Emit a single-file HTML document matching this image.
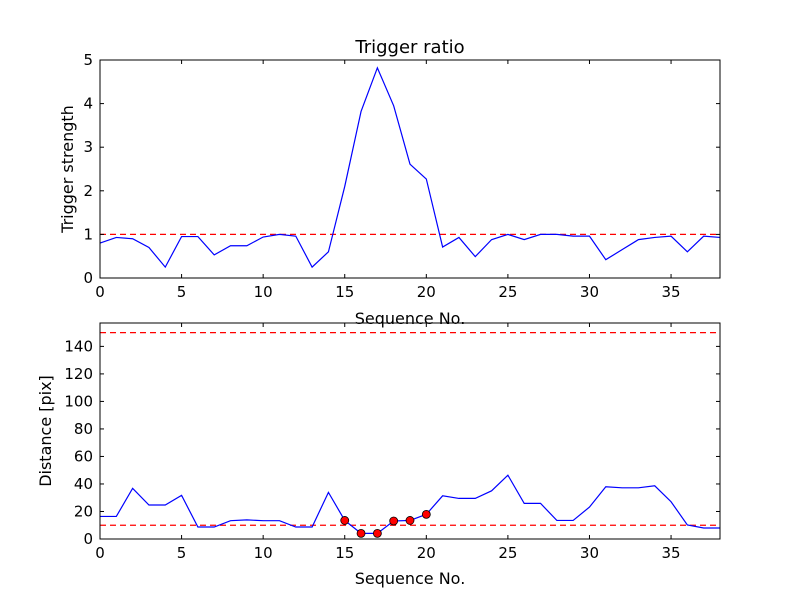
<!DOCTYPE html>
<html><head><meta charset="utf-8"><style>
body{margin:0;background:#fff;}
svg text{font-family:"DejaVu Sans","Liberation Sans",sans-serif;}
</style></head><body>
<svg id="c" width="800" height="600" xmlns="http://www.w3.org/2000/svg"></svg>
<script>
const seqIndex = [];
for (let i = 0; i <= 38; i++) seqIndex.push(i);
const triggerValues = [0.80,0.93,0.90,0.70,0.25,0.95,0.95,0.53,0.74,0.74,0.94,1.0,0.96,0.25,0.60,2.1,3.82,4.82,3.95,2.61,2.27,0.71,0.93,0.49,0.88,1.0,0.88,1.0,1.0,0.96,0.96,0.42,0.65,0.88,0.93,0.96,0.60,0.96,0.93];
const distanceValues = [16.4,16.4,36.8,24.7,24.7,31.7,8.7,8.7,13.3,13.9,13.3,13.3,8.7,8.7,33.9,13.5,4.1,4.1,13.1,13.5,17.9,31.4,29.5,29.5,35,46.4,25.9,25.9,13.5,13.5,23.2,38,37.2,37.2,38.7,27.1,10.2,8,8];
const markedIdx = [15,16,17,18,19,20];
const xTicks = [0,5,10,15,20,25,30,35];
const topYTicks = [0,1,2,3,4,5];
const botYTicks = [0,20,40,60,80,100,120,140];
const topThreshold = [1];
const botThresholds = [10,150];

const NS="http://www.w3.org/2000/svg";
const svg=document.getElementById('c');
function mk(tag,attrs,parent){const e=document.createElementNS(NS,tag);for(const k in attrs)e.setAttribute(k,attrs[k]);(parent||svg).appendChild(e);return e;}

function panel(cfg){
  const {L,R,T,B,ymin,ymax,ticks,vals,thr,name}=cfg;
  const xs=v=>L+(v-0)/(38-0)*(R-L);
  const ys=v=>B-(v-ymin)/(ymax-ymin)*(B-T);
  const g=mk('g',{});
  
  
  thr.forEach(t=>{
    const l=mk('line',{x1:L,x2:R,y1:ys(t),y2:ys(t),stroke:'#ff0000','stroke-width':1.2,'stroke-dasharray':'6,4'},g);
    
    
  });
  const pts=vals.map((v,i)=>xs(seqIndex[i]).toFixed(2)+','+ys(v).toFixed(2)).join(' ');
  const pl=mk('polyline',{points:pts,fill:'none',stroke:'#0000ff','stroke-width':1.2},g);
  
  
  const fr=mk('rect',{x:L,y:T,width:R-L,height:B-T,fill:'none',stroke:'#000','stroke-width':1},g);
  
  
  xTicks.forEach(t=>{
    const x=xs(t);
    mk('line',{x1:x,x2:x,y1:B,y2:B-4,stroke:'#000'},g);
    mk('line',{x1:x,x2:x,y1:T,y2:T+4,stroke:'#000'},g);
    const tx=mk('text',{x:x,y:B+19,'text-anchor':'middle','font-size':15},g);
    tx.textContent=t;
    
    
  });
  ticks.forEach(t=>{
    const y=ys(t);
    mk('line',{x1:L,x2:L+4,y1:y,y2:y,stroke:'#000'},g);
    mk('line',{x1:R,x2:R-4,y1:y,y2:y,stroke:'#000'},g);
    const tx=mk('text',{x:L-7,y:y+5,'text-anchor':'end','font-size':15},g);
    tx.textContent=t;
    
    
  });
  return {xs,ys,g};
}

const topPanel=panel({L:100,R:720,T:60,B:278,ymin:0,ymax:5,ticks:topYTicks,vals:triggerValues,thr:topThreshold,name:'trigger'});
const botPanel=panel({L:100,R:720,T:323,B:539,ymin:0,ymax:157,ticks:botYTicks,vals:distanceValues,thr:botThresholds,name:'distance'});
markedIdx.forEach(i=>{
  const c=mk('circle',{cx:botPanel.xs(seqIndex[i]),cy:botPanel.ys(distanceValues[i]),r:4,fill:'#ff0000',stroke:'#000','stroke-width':0.8},botPanel.g);
  
  
});
function label(txt,attrs,name){const t=mk('text',attrs);t.textContent=txt;}
label('Trigger ratio',{x:410,y:53,'text-anchor':'middle','font-size':18},'top-title');
label('Sequence No.',{x:410,y:324,'text-anchor':'middle','font-size':16},'top-x-axis-title');
label('Trigger strength',{x:73,y:169,'text-anchor':'middle','font-size':16,transform:'rotate(-90 73 169)'},'top-y-axis-title');
label('Sequence No.',{x:410,y:584,'text-anchor':'middle','font-size':16},'bottom-x-axis-title');
label('Distance [pix]',{x:51,y:431,'text-anchor':'middle','font-size':16,transform:'rotate(-90 51 431)'},'bottom-y-axis-title');
</script>
</body></html>
